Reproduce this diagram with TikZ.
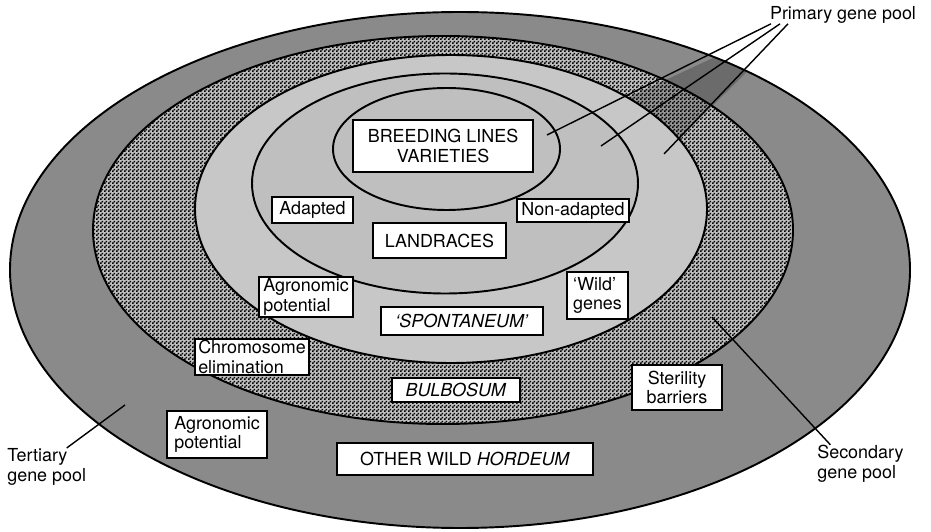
\documentclass[tikz,border=0pt]{standalone}
\usepackage{fontspec}
\setmainfont{TeX Gyre Heros}
\usetikzlibrary{patterns}

\definecolor{tertgray}{gray}{0.54}
\definecolor{primgray}{gray}{0.78}
\definecolor{landgray}{gray}{0.75}

\pgfdeclarepatternformonly{chequer}{\pgfqpoint{0pt}{0pt}}{\pgfqpoint{2.2762pt}{2.2762pt}}{\pgfqpoint{2.2762pt}{2.2762pt}}{
  \pgfpathrectangle{\pgfqpoint{0pt}{0pt}}{\pgfqpoint{1.1381pt}{1.1381pt}}
  \pgfpathrectangle{\pgfqpoint{1.1381pt}{1.1381pt}}{\pgfqpoint{1.1381pt}{1.1381pt}}
  \pgfusepath{fill}
}

\tikzset{
  tag/.style={draw,fill=white,line width=0.8pt,inner sep=0pt,align=center,
    font=\fontsize{10.2}{11.2}\selectfont},
  pool/.style={inner sep=0pt,align=left,font=\fontsize{10.2}{11.6}\selectfont},
  ring/.style={line width=1.1pt},
  pointer/.style={line width=0.8pt}
}

\begin{document}
\begin{tikzpicture}
  \useasboundingbox (0,0) rectangle (18.62,10.62);
  % the pools, outside in
  \fill[tertgray] (9.2,5.22) ellipse [x radius=9.0,y radius=5.16];
  \fill[gray!50] (8.86,6.02) ellipse [x radius=7.0,y radius=3.88];
  \fill[pattern=chequer,pattern color=black] (8.86,6.02) ellipse [x radius=7.0,y radius=3.88];
  \begin{scope}
    \clip (9.2,5.22) ellipse [x radius=9.0,y radius=5.16];
    \fill[black,opacity=.22] (15.42,10.0) -- (10.94,7.92) -- (13.28,7.54) -- (15.76,10.0) -- cycle;
  \end{scope}
  \fill[primgray] (9.02,6.44) ellipse [x radius=5.12,y radius=3.08];
  \fill[landgray] (8.9,6.95) ellipse [x radius=3.86,y radius=2.2];
  \draw[ring] (9.2,5.22) ellipse [x radius=9.0,y radius=5.16];
  \draw[ring] (8.86,6.02) ellipse [x radius=7.0,y radius=3.88];
  \draw[ring] (9.02,6.44) ellipse [x radius=5.12,y radius=3.08];
  \draw[ring] (8.9,6.95) ellipse [x radius=3.86,y radius=2.2];
  \draw[ring] (8.93,7.64) ellipse [x radius=2.27,y radius=1.22];

  \node[tag,minimum width=3.6cm,minimum height=1.04cm] (breed) at (8.86,7.70) {BREEDING LINES\\VARIETIES};
  \node[tag,minimum width=1.62cm,minimum height=0.52cm] (adapted) at (6.25,6.42) {Adapted};
  \node[tag,minimum width=2.24cm,minimum height=0.46cm] (nonadapted) at (11.46,6.41) {Non-adapted};
  \node[tag,minimum width=2.66cm,minimum height=0.7cm] (landraces) at (8.79,5.81) {LANDRACES};
  \node[tag,align=left,minimum width=1.88cm,minimum height=0.8cm] (agroin) at (6.12,4.68) {Agronomic\\potential};
  \node[tag,align=left,minimum width=1.22cm,minimum height=0.94cm] (wild) at (11.95,4.71) {`Wild'\\genes};
  \node[tag,minimum width=3.24cm,minimum height=0.56cm] (spont) at (9.24,4.2) {\textit{`SPONTANEUM'}};
  \node[tag,align=left,minimum width=2.28cm,minimum height=0.72cm] (chrom) at (5.04,3.48) {Chromosome\\elimination};
  \node[tag,minimum width=2.56cm,minimum height=0.48cm] (bulb) at (9.12,2.82) {\textit{BULBOSUM}};
  \node[tag,minimum width=1.8cm,minimum height=0.9cm] (sterile) at (13.54,2.87) {Sterility\\barriers};
  \node[tag,align=left,minimum width=2.0cm,minimum height=0.94cm] (agroout) at (4.34,1.93) {Agronomic\\potential};
  \node[tag,minimum width=5.12cm,minimum height=0.64cm] (hordeum) at (9.3,1.44) {OTHER WILD \textit{HORDEUM}};

  \node[pool] (prim) at (16.86,10.32) {Primary gene pool};
  \node[pool,anchor=west] (tert) at (0.14,1.28) {Tertiary\\gene pool};
  \node[pool,anchor=west] (sec) at (16.34,1.34) {Secondary\\gene pool};

  \coordinate (p1) at (10.94,7.92);
  \coordinate (p2) at (12.02,7.7);
  \coordinate (p3) at (13.28,7.54);
  \coordinate (t1) at (2.5,2.52);
  \coordinate (s1) at (14.24,4.28);
  \draw[pointer] ([xshift=-14.4mm]prim.south) -- (p1);
  \draw[pointer] ([xshift=-12.6mm]prim.south) -- (p2);
  \draw[pointer] ([xshift=-11mm]prim.south) -- (p3);
  \draw[pointer] (t1) -- ([xshift=4mm]tert.north);
  \draw[pointer] (s1) -- ([xshift=-6mm]sec.north);
\end{tikzpicture}
\end{document}
